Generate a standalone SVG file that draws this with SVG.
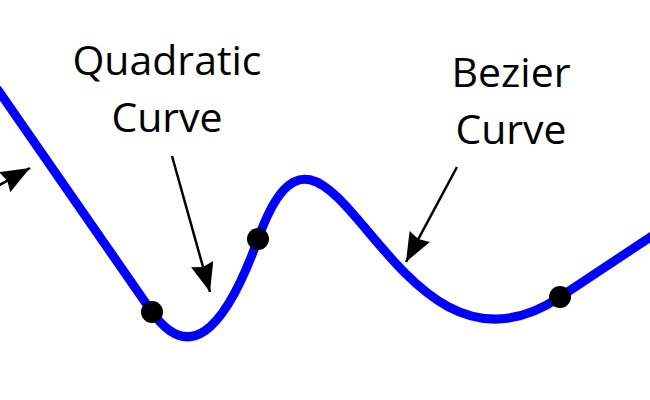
<svg xmlns="http://www.w3.org/2000/svg" width="650" height="400" viewBox="0 0 650 400">
<style>
.lbl{font-family:"Open Sans","DejaVu Sans",sans-serif;font-size:41px;fill:#000;text-anchor:middle}
.curve{fill:none;stroke:#0000ff;stroke-width:9;stroke-linecap:round}
.ptr{fill:none;stroke:#000;stroke-width:2.5}
.dot{fill:#000}
</style>
<defs>
<marker id="ah" viewBox="0 0 29 23" refX="29" refY="11.5" markerWidth="29" markerHeight="23" markerUnits="userSpaceOnUse" orient="auto">
<path d="M0,0 L29,11.5 L0,23 L3,11.5 Z" fill="#000"/>
</marker>
</defs>
<rect width="650" height="400" fill="#fff"/>
<g id="curve">
<path class="curve" d="M-2,90 L152,312 Q205,386 258,239 C330,40 389,411 560,297 L652,236"/>
</g>
<g id="connectors">
<line class="ptr" x1="172" y1="156" x2="210" y2="292" marker-end="url(#ah)"/>
<line class="ptr" x1="457" y1="167" x2="406" y2="262" marker-end="url(#ah)"/>
<line class="ptr" x1="-40" y1="207" x2="30" y2="168" marker-end="url(#ah)"/>
</g>
<g id="points">
<circle class="dot" cx="152" cy="312" r="11"/>
<circle class="dot" cx="258" cy="239" r="11"/>
<circle class="dot" cx="560" cy="297" r="11"/>
</g>
<g id="label-quadratic">
<text class="lbl" x="167" y="75">Quadratic</text>
<text class="lbl" x="167" y="132">Curve</text>
</g>
<g id="label-bezier">
<text class="lbl" x="511" y="87">Bezier</text>
<text class="lbl" x="511" y="144">Curve</text>
</g>
</svg>
